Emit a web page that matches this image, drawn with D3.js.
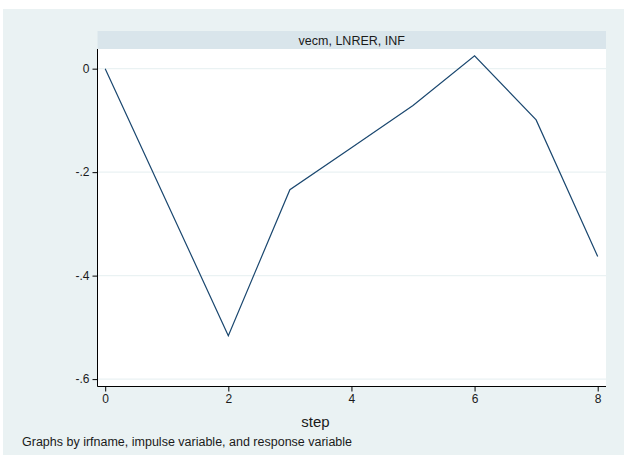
<!DOCTYPE html>
<html>
<head>
<meta charset="utf-8">
<script src="https://cdn.jsdelivr.net/npm/d3@7"></script>
<style>
  html, body { margin: 0; padding: 0; background: #ffffff; }
  svg { display: block; font-family: "Liberation Sans", Arial, sans-serif; }
</style>
</head>
<body>
<svg id="chart" width="624" height="457"></svg>
<script>
// Impulse response: vecm, impulse LNRER, response INF
const steps = [0, 1, 2, 3, 4, 5, 6, 7, 8];
const irf = [0, -0.258, -0.516, -0.234, -0.153, -0.071, 0.025, -0.099, -0.363];
const yTicks = [0, -0.2, -0.4, -0.6];
const yTickLabels = ["0", "-.2", "-.4", "-.6"];
const xTicks = [0, 2, 4, 6, 8];
const panelTitle = "vecm, LNRER, INF";
const xTitle = "step";
const note = "Graphs by irfname, impulse variable, and response variable";

const svg = d3.select("#chart");

// graph region
const region = { left: 3, top: 9, right: 624, bottom: 455 };
svg.append("rect").attr("x", region.left).attr("y", region.top)
  .attr("width", region.right - region.left).attr("height", region.bottom - region.top)
  .attr("fill", "#eaf2f3");

const plot = { left: 97.5, right: 606, top: 49, bottom: 386.5 };

// panel header strip
svg.append("rect").attr("x", plot.left).attr("y", 31)
  .attr("width", plot.right - plot.left).attr("height", 18)
  .attr("fill", "#d9e5eb");
svg.append("text").attr("x", (plot.left + plot.right) / 2).attr("y", 44.5)
  .attr("text-anchor", "middle").attr("font-size", 12.5).attr("fill", "#1a1a1a")
  .text(panelTitle);

// plot area
svg.append("rect").attr("x", plot.left).attr("y", plot.top)
  .attr("width", plot.right - plot.left).attr("height", plot.bottom - plot.top)
  .attr("fill", "#ffffff");

const x = d3.scaleLinear().domain([-0.125, 8.135]).range([plot.left, plot.right]);
const y = d3.scaleLinear().domain([-0.6143, 0.038]).range([plot.bottom, plot.top]);

// horizontal grid
svg.append("g").selectAll("line").data(yTicks).join("line")
  .attr("x1", plot.left).attr("x2", plot.right)
  .attr("y1", d => y(d)).attr("y2", d => y(d))
  .attr("stroke", "#eaf2f3").attr("stroke-width", 1.2);

// response line
const line = d3.line().x((d, i) => x(steps[i])).y(d => y(d));
svg.append("path").datum(irf).attr("d", line)
  .attr("fill", "none").attr("stroke", "#1a476f").attr("stroke-width", 1.2)
  .attr("stroke-linejoin", "miter");

// axes
const yAxis = d3.axisLeft(y).tickValues(yTicks).tickSize(5).tickPadding(3)
  .tickFormat((d, i) => yTickLabels[i]);
const gy = svg.append("g").attr("transform", `translate(${plot.left},0)`).call(yAxis);
gy.select(".domain").attr("d", `M0,${plot.top}V${plot.bottom}`).attr("stroke", "#000");

const xAxis = d3.axisBottom(x).tickValues(xTicks).tickSize(5).tickPadding(3)
  .tickFormat(d3.format("d"));
const gx = svg.append("g").attr("transform", `translate(0,${plot.bottom})`).call(xAxis);
gx.select(".domain").attr("d", `M${plot.left},0H${plot.right}`).attr("stroke", "#000");

[gx, gy].forEach(g => {
  g.selectAll(".tick line").attr("stroke", "#000");
  g.selectAll(".tick text").attr("font-size", 12).attr("fill", "#1a1a1a")
    .attr("font-family", "Liberation Sans, Arial, sans-serif");
});

// shared axis title, centred on the whole graph
svg.append("text").attr("x", (region.left + region.right) / 2 + 2).attr("y", 427)
  .attr("text-anchor", "middle").attr("font-size", 15).attr("fill", "#1a1a1a")
  .text(xTitle);

// note
svg.append("text").attr("x", 22).attr("y", 446)
  .attr("font-size", 12.5).attr("fill", "#1a1a1a")
  .text(note);
</script>
</body>
</html>
